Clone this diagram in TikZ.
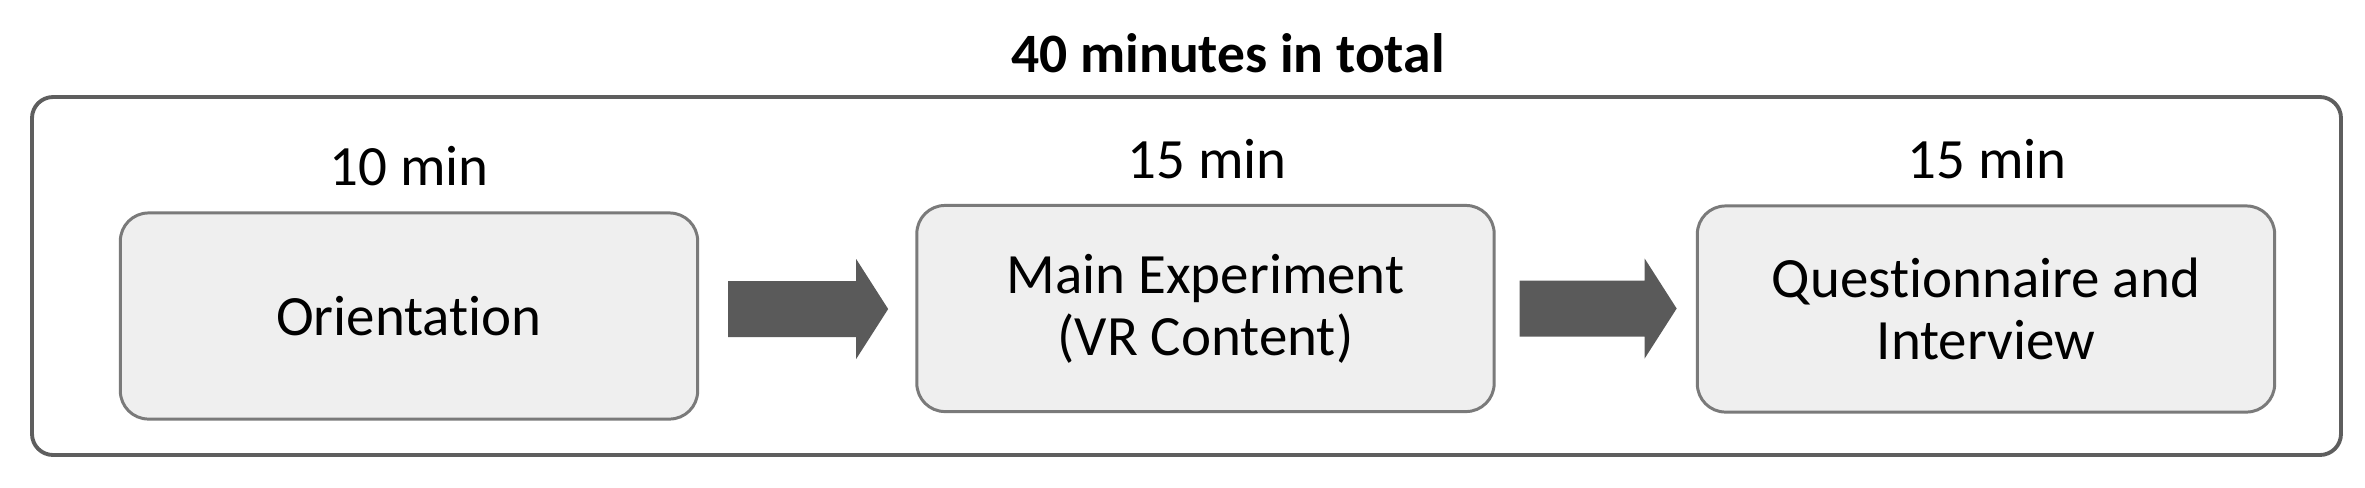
\documentclass[tikz,border=0pt]{standalone}
\usepackage{fontspec}
\setmainfont[Ligatures=NoCommon]{Carlito}
\usetikzlibrary{calc}
\definecolor{outerline}{HTML}{5E5E5E}
\definecolor{boxline}{HTML}{7A7A7A}
\definecolor{boxfill}{HTML}{EFEFEF}
\definecolor{arrowfill}{HTML}{5A5A5A}
\begin{document}
\begin{tikzpicture}[x=0.01cm,y=-0.01cm,
  stepbox/.style={draw=boxline, line width=0.85pt, fill=boxfill, rounded corners=8pt,
    minimum width=5.77cm, minimum height=2.06cm, align=center, inner sep=0pt,
    font=\fontsize{16.2}{17.6}\selectfont},
  timelabel/.style={anchor=base, inner sep=0pt, font=\fontsize{16.2}{17.6}\selectfont},
  titlelabel/.style={anchor=base, inner sep=0pt, font=\bfseries\fontsize{15.8}{17}\selectfont},
  blockarrow/.style={fill=arrowfill}]
\useasboundingbox (0,0) rectangle (2365,487);
\draw[outerline, line width=1.1pt, rounded corners=6pt] (32,97) rectangle (2341,455);
\node[titlelabel] (title) at (1228,72) {40 minutes in total};
\node[stepbox] (o) at (409,316) {Orientation};
\node[stepbox] (m) at (1205.5,308.5) {Main Experiment\\(VR Content)};
\node[stepbox] (q) at (1986,309) {Questionnaire and\\Interview};
\node[timelabel] (t1) at (409,185) {10 min};
\node[timelabel] (t2) at (1207,178) {15 min};
\node[timelabel] (t3) at (1987,178) {15 min};
\coordinate (a1s) at ($(o.east)+(29,-7)$);
\coordinate (a2s) at ($(m.east)+(24,0)$);
\fill[blockarrow] (a1s) ++(0,-28) -- ++(128,0) -- ++(0,-22) -- ++(32,50) -- ++(-32,50) -- ++(0,-22) -- ++(-128,0) -- cycle;
\fill[blockarrow] (a2s) ++(0,-28) -- ++(125,0) -- ++(0,-22) -- ++(32,50) -- ++(-32,50) -- ++(0,-22) -- ++(-125,0) -- cycle;
\end{tikzpicture}
\end{document}
